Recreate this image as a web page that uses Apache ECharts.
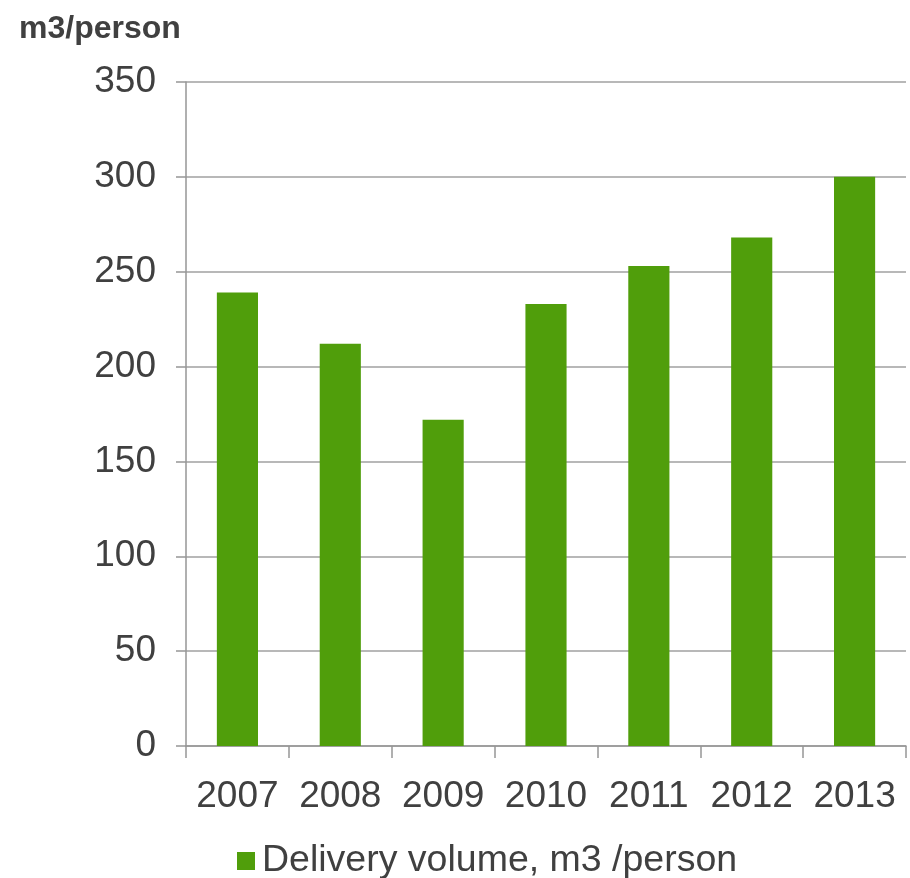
<!DOCTYPE html>
<html><head><meta charset="utf-8">
<script src="https://cdn.jsdelivr.net/npm/echarts@6/dist/echarts.min.js"></script>
<style>html,body{margin:0;padding:0;background:#fff}#c{width:910px;height:878px}</style>
</head><body><div id="c"></div>
<script>
var years = ['2007','2008','2009','2010','2011','2012','2013'];
var volume = [239, 212, 172, 233, 253, 268, 300];
var seriesName = 'Delivery volume, m3 /person';
var unitLabel = 'm3/person';

var chart = echarts.init(document.getElementById('c'));
var font = '"Liberation Sans", Arial, sans-serif';
chart.setOption({
  animation: false,
  title: {text: unitLabel, left: 14, top: 8, textStyle: {fontFamily: font, fontSize: 32, fontWeight: 'bold', color: '#404040'}},
  legend: {bottom: -7, left: 232, itemWidth: 18, itemHeight: 18, itemGap: 8,
    textStyle: {fontFamily: font, fontSize: 37.5, color: '#404040', padding: [0, 0, 0, 2]}, data: [{name: seriesName, icon: 'rect'}]},
  grid: {left: 186, right: 4, top: 82, bottom: 132, containLabel: false},
  xAxis: {type: 'category', data: years,
    axisLine: {lineStyle: {color: '#969696', width: 1.5}},
    axisTick: {show: true, interval: 0, length: 12, lineStyle: {color: '#969696', width: 1.5}},
    axisLabel: {interval: 0, fontFamily: font, fontSize: 37, color: '#404040', margin: 32}},
  yAxis: {type: 'value', min: 0, max: 350, interval: 50,
    axisLine: {show: true, lineStyle: {color: '#969696', width: 1.5}},
    axisTick: {show: true, length: 10, lineStyle: {color: '#969696', width: 1.5}},
    splitLine: {lineStyle: {color: '#a0a0a0', width: 1.5}},
    axisLabel: {fontFamily: font, fontSize: 37, color: '#404040', margin: 30}},
  series: [{name: seriesName, type: 'bar', data: volume, barWidth: '40%',
    itemStyle: {color: '#509E0B'}}]
});
</script></body></html>
